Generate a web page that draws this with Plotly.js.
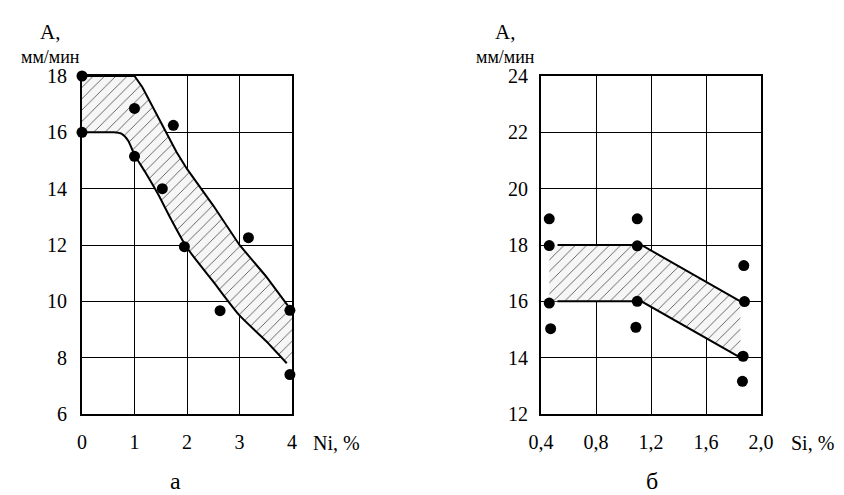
<!DOCTYPE html>
<html><head><meta charset="utf-8">
<script src="https://cdn.plot.ly/plotly-3.0.1.min.js"></script>
</head><body style="margin:0;background:#fff">
<div id="chart" style="width:844px;height:495px"></div>
<script>
// Panel а: A vs Ni
const niPointsX = [0, 0, 1, 1, 1.74, 1.53, 1.95, 3.17, 2.63, 3.96, 3.96];
const niPointsY = [18, 16, 16.85, 15.15, 16.25, 14.0, 11.94, 12.26, 9.67, 9.68, 7.4];
const niUpperX = [0, 1, 1.15, 1.35, 1.6, 1.8, 2.0, 2.5, 3.0, 3.5, 3.92];
const niUpperY = [18, 18, 17.6, 16.9, 16.0, 15.3, 14.7, 13.4, 12.0, 10.9, 9.85];
const niLowerX = [0, 0.6, 0.75, 0.88, 1.0, 1.2, 1.45, 1.7, 2.0, 2.5, 3.0, 3.5, 3.9];
const niLowerY = [16, 16, 15.95, 15.7, 15.2, 14.6, 13.8, 12.9, 11.9, 10.7, 9.5, 8.6, 7.8];
// Panel б: A vs Si
const siPointsX = [0.46, 0.46, 0.46, 0.47, 1.1, 1.1, 1.1, 1.09, 1.875, 1.88, 1.87, 1.865];
const siPointsY = [18.93, 17.98, 15.94, 15.03, 18.93, 17.97, 16.0, 15.08, 17.27, 15.99, 14.05, 13.16];
const siUpperX = [0.52, 1.13, 1.85];
const siUpperY = [18, 18, 16];
const siLowerX = [0.52, 1.13, 1.85];
const siLowerY = [16, 16, 14];
const niTicks = [0, 1, 2, 3, 4];
const siTicks = [0.4, 0.8, 1.2, 1.6, 2.0];
const siTickText = ['0,4', '0,8', '1,2', '1,6', '2,0'];
const aTicksL = [6, 8, 10, 12, 14, 16, 18];
const aTicksR = [12, 14, 16, 18, 20, 22, 24];

const FAM = 'Liberation Serif';
function fnt(size) { return {family: FAM, size: size, color: '#000'}; }
function pat() { return {shape: '/', fgcolor: '#444', bgcolor: '#f6f6f6', size: 8, solidity: 0.1}; }

// fill polygons built from the bounding curves
const niPolyX = niUpperX.concat([4, 4], niLowerX.slice().reverse());
const niPolyY = niUpperY.concat([niUpperY[niUpperY.length-1], niLowerY[niLowerY.length-1]], niLowerY.slice().reverse());
const siPolyX = [siPointsX[1]].concat(siUpperX, siLowerX.slice().reverse(), [siPointsX[2]]);
const siPolyY = [siUpperY[0]].concat(siUpperY, siLowerY.slice().reverse(), [siLowerY[0]]);

function lineS(extra) { return Object.assign({color: '#000', width: 2}, extra || {}); }
function mk() { return {color: '#000', size: 11}; }

const traces = [
  {x: niPolyX, y: niPolyY, xaxis: 'x', yaxis: 'y', mode: 'none', fill: 'toself', fillcolor: 'rgba(0,0,0,0)', fillpattern: pat(), hoverinfo: 'skip'},
  {x: niUpperX, y: niUpperY, xaxis: 'x', yaxis: 'y', mode: 'lines', line: lineS()},
  {x: niLowerX, y: niLowerY, xaxis: 'x', yaxis: 'y', mode: 'lines', line: lineS({shape: 'spline', smoothing: 0.6})},
  {x: niPointsX, y: niPointsY, xaxis: 'x', yaxis: 'y', mode: 'markers', marker: mk(), cliponaxis: false},
  {x: siPolyX, y: siPolyY, xaxis: 'x2', yaxis: 'y2', mode: 'none', fill: 'toself', fillcolor: 'rgba(0,0,0,0)', fillpattern: pat(), hoverinfo: 'skip'},
  {x: siUpperX, y: siUpperY, xaxis: 'x2', yaxis: 'y2', mode: 'lines', line: lineS()},
  {x: siLowerX, y: siLowerY, xaxis: 'x2', yaxis: 'y2', mode: 'lines', line: lineS()},
  {x: siPointsX, y: siPointsY, xaxis: 'x2', yaxis: 'y2', mode: 'markers', marker: mk(), cliponaxis: false}
];

function ax(extra) {
  return Object.assign({showline: true, mirror: true, linecolor: '#000', linewidth: 2, showgrid: true, gridcolor: '#000', gridwidth: 1, zeroline: false, ticks: '', tickfont: fnt(20), fixedrange: true}, extra);
}
const dy = [(495-414)/495, (495-76)/495];

function ann(text, px, py, size, xa) {
  return {text: text, x: px/844, y: 1-py/495, xref: 'paper', yref: 'paper', xanchor: xa || 'center', yanchor: 'middle', showarrow: false, font: fnt(size)};
}

const layout = {
  width: 844, height: 495, showlegend: false,
  margin: {l: 0, r: 0, t: 0, b: 0},
  paper_bgcolor: '#fff', plot_bgcolor: '#fff',
  font: fnt(20),
  xaxis: ax({domain: [82/844, 292/844], range: [0, 4], tickvals: niTicks, anchor: 'y', ticklabelstandoff: 9}),
  yaxis: ax({domain: dy, range: [6, 18], tickvals: aTicksL, anchor: 'x', ticklabelstandoff: 9}),
  xaxis2: ax({domain: [541/844, 761/844], range: [0.4, 2.0], tickvals: siTicks, ticktext: siTickText, anchor: 'y2', ticklabelstandoff: 9}),
  yaxis2: ax({domain: dy, range: [12, 24], tickvals: aTicksR, anchor: 'x2', ticklabelstandoff: 7}),
  annotations: [
    ann('A,', 50, 32, 21),
    ann('мм/мин', 50, 57, 18),
    ann('A,', 505, 32, 21),
    ann('мм/мин', 505, 57, 18),
    ann('Ni, %', 311, 443, 20, 'left'),
    ann('Si, %', 789, 443, 20, 'left'),
    ann('а', 175, 481, 24),
    ann('б', 652, 481, 24)
  ]
};

Plotly.newPlot('chart', traces, layout, {staticPlot: true, displayModeBar: false});
</script></body></html>
